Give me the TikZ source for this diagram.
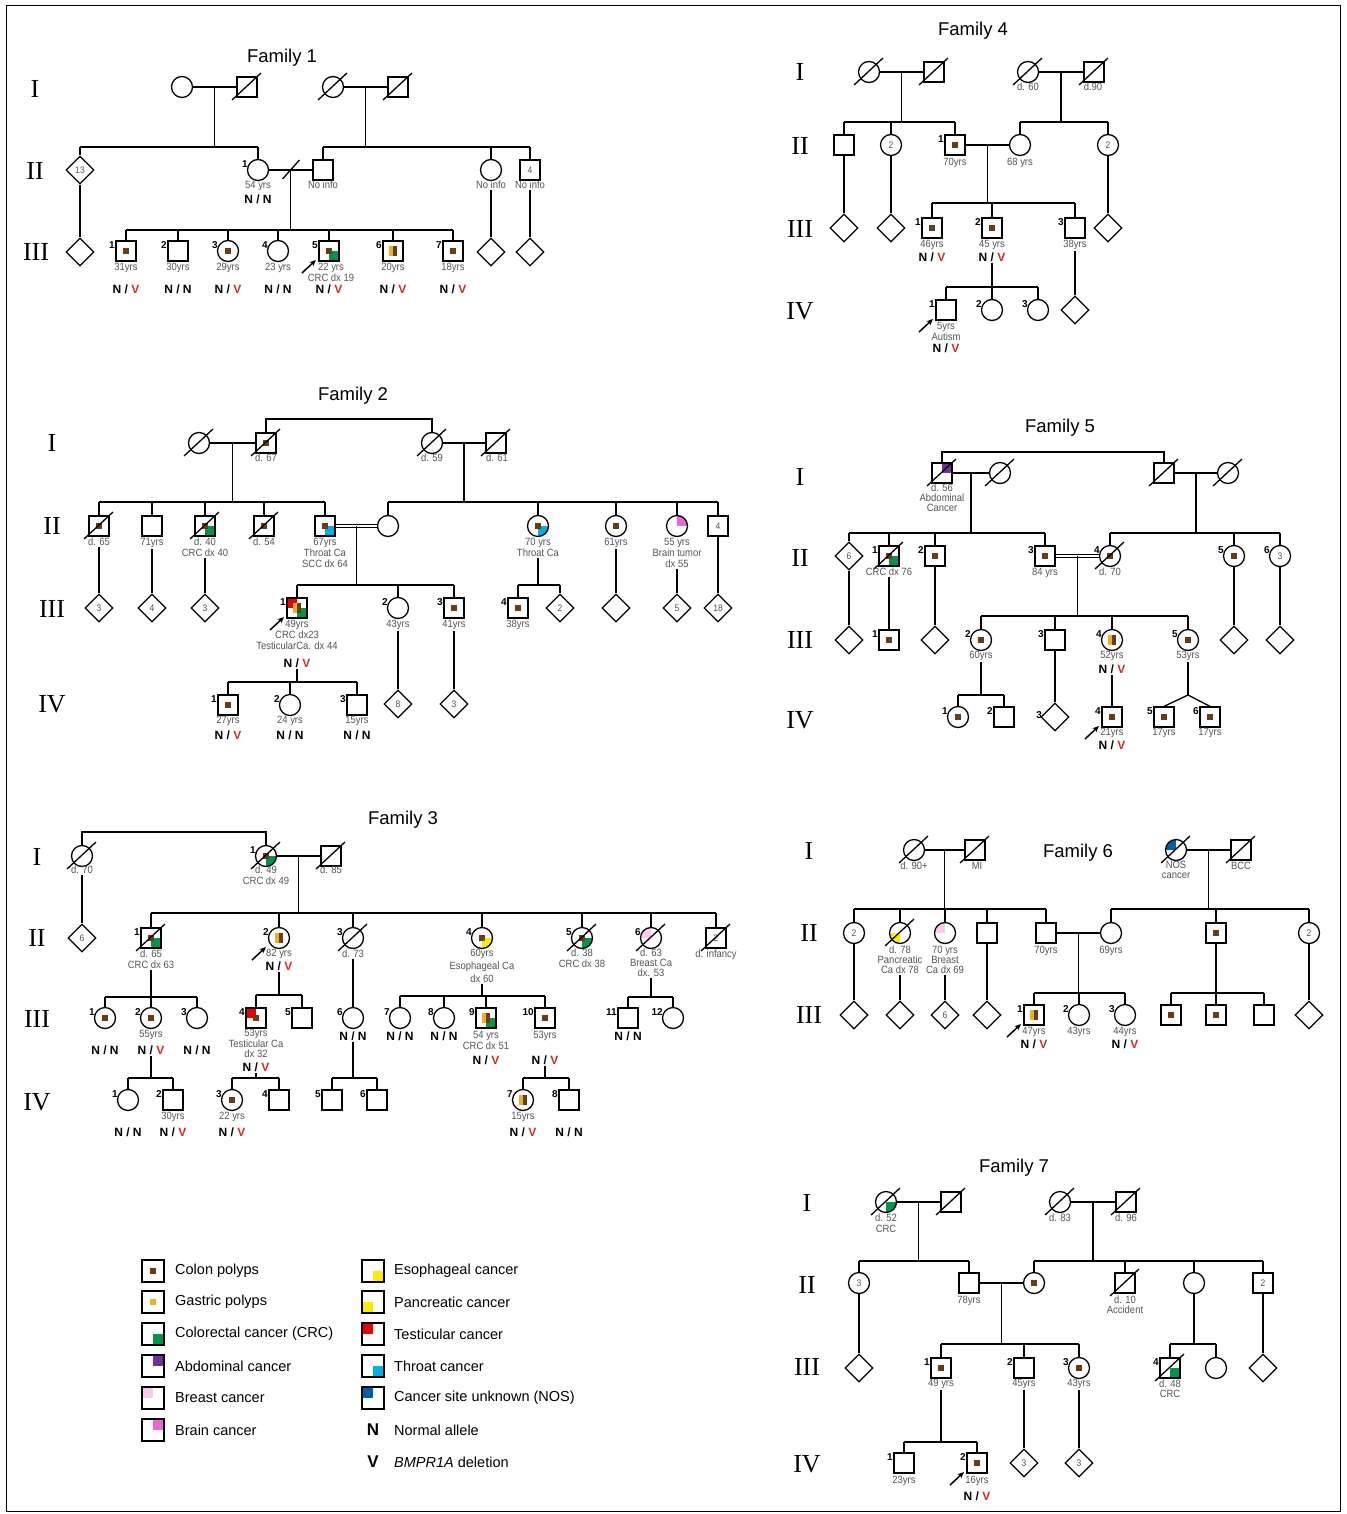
\documentclass[tikz,border=0pt]{standalone}
\usepackage{fontspec}
\setmainfont{Liberation Sans}
\newfontfamily\romfont{Liberation Serif}
\newfontfamily\labfont[FakeStretch=0.9]{Liberation Sans}
\usetikzlibrary{shapes.geometric,calc,arrows.meta}
\definecolor{cpc}{RGB}{105,60,20}
\definecolor{gpc}{RGB}{235,178,40}
\definecolor{crcc}{RGB}{0,150,70}
\definecolor{abdc}{RGB}{112,48,160}
\definecolor{brec}{RGB}{255,200,235}
\definecolor{brac}{RGB}{238,100,220}
\definecolor{yelc}{RGB}{255,235,0}
\definecolor{tesc}{RGB}{235,0,0}
\definecolor{thrc}{RGB}{0,175,235}
\definecolor{nosc}{RGB}{0,95,165}
\definecolor{vred}{RGB}{205,45,45}
\definecolor{txtg}{RGB}{85,85,85}
\newcommand\Fcp{\fill[cpc] ([shift={(-3.2,-3.2)}]path picture bounding box.center) rectangle ([shift={(3.2,3.2)}]path picture bounding box.center);}
\newcommand\Fgp{\fill[gpc] ([shift={(-3.2,-3.2)}]path picture bounding box.center) rectangle ([shift={(3.2,3.2)}]path picture bounding box.center);}
\newcommand\Fgc{\fill[gpc] ([shift={(-4,-5)}]path picture bounding box.center) rectangle ([shift={(0,5)}]path picture bounding box.center);\fill[cpc] ([shift={(0,-5)}]path picture bounding box.center) rectangle ([shift={(4,5)}]path picture bounding box.center);}
\newcommand\Fq[2]{\fill[#1] (path picture bounding box.center) rectangle (path picture bounding box.#2);}
\newcommand\Fcrc{\Fq{crcc}{south east}}
\newcommand\Fabd{\Fq{abdc}{north east}}
\newcommand\Fbre{\Fq{brec}{north west}}
\newcommand\Fbra{\Fq{brac}{north east}}
\newcommand\Feso{\Fq{yelc}{south east}}
\newcommand\Fpan{\Fq{yelc}{south west}}
\newcommand\Ftes{\Fq{tesc}{north west}}
\newcommand\Fthr{\Fq{thrc}{south east}}
\newcommand\Fnos{\Fq{nosc}{north west}}
\newcommand\dead[1]{\draw[ln] ([shift={(-15,13)}]#1.center) -- ([shift={(14,-14)}]#1.center);}
\newcommand\prob[1]{\draw[line width=1.5pt,-{Stealth[length=6.5pt,width=5.5pt]}] ([shift={(-27,22)}]#1.center) -- ([shift={(-13,9)}]#1.center);}
\newcommand\desc[2]{\draw[ln] (#1) -- (#1 |- 0,#2);}
\newcommand\sib[3]{\draw[ln] (#2.north |- 0,#1) -- (#3.north |- 0,#1);}
\newcommand\kids[2]{\foreach \kk in {#2}{\draw[ln] (\kk.north) -- (\kk.north |- 0,#1);}}
\newcommand\NV{N / \textcolor{vred}{V}}
\newcommand\NN{N / N}
\tikzset{
 ln/.style={line width=1.3pt},
 person/.style={draw, line width=1.3pt, inner sep=0pt, font=\labfont\fontsize{9.5}{9.5}\selectfont, text=txtg},
 sq/.style={person, rectangle, minimum size=20pt},
 ci/.style={person, circle, minimum size=21pt},
 di/.style={person, diamond, minimum size=28pt},
 lsq/.style={person, rectangle, minimum size=22pt},
 lab/.style={anchor=north, align=center, inner sep=1pt, text=txtg, font=\labfont\fontsize{10.5}{11}\selectfont},
 gt/.style={inner sep=1pt, font=\bfseries\fontsize{12}{12}\selectfont},
 gen/.style={inner sep=0pt, font=\romfont\fontsize{26}{26}\selectfont},
 ttl/.style={inner sep=0pt, font=\fontsize{18.5}{18.5}\selectfont},
 nlab/.style={anchor=east, inner sep=0.4pt, text=black, font=\bfseries\fontsize{10}{10}\selectfont},
 nb/.style={label={[nlab]150:#1}},
 fx/.style={path picture={#1}},
 leg/.style={anchor=west, inner sep=0pt, font=\fontsize{14.5}{14.5}\selectfont},
}
\begin{document}
\begin{tikzpicture}[x=1pt,y=-1pt]
\fill[white] (0,0) rectangle (1346,1514);
\useasboundingbox (0,0) rectangle (1346,1514);
\draw[line width=1pt] (6,6) rectangle (1340,1511);

%%%%%%%%%%%%%%%% Family 1
\node[ttl] (a-t) at (282,58) {Family 1};
\node[gen] (a-g1) at (35,89) {I};
\node[gen] (a-g2) at (35,171) {II};
\node[gen] (a-g3) at (36,252) {III};
\node[ci] (a11) at (182,87) {};
\node[sq] (a12) at (247,87) {};
\node[ci] (a13) at (333,87) {};
\node[sq] (a14) at (398,87) {};
\dead{a12}\dead{a13}\dead{a14}
\draw[ln] (a11) -- (a12);
\draw[ln] (a13) -- (a14);
\coordinate (a1m) at ($(a11)!.5!(a12)$);
\coordinate (a2m) at ($(a13)!.5!(a14)$);
\node[di] (a21) at (80,170) {13};
\node[ci,nb=1] (a22) at (258,170) {};
\node[sq] (a23) at (323,170) {};
\node[ci] (a24) at (491,170) {};
\node[sq] (a25) at (530,170) {4};
\desc{a1m}{147}\sib{147}{a21}{a22}\kids{147}{a21,a22}
\desc{a2m}{147}\sib{147}{a23}{a25}\kids{147}{a23,a24,a25}
\draw[ln] (a22) -- (a23);
\coordinate (a2c) at ($(a22)!.5!(a23)$);
\draw[ln] ([shift={(-8,9)}]a2c) -- ([shift={(9,-10)}]a2c);
\node[lab] (a22l) at (258,180) {54 yrs};
\node[gt] (a22g) at (258,199) {\NN};
\node[lab] (a23l) at (323,180) {No info};
\node[lab] (a24l) at (491,180) {No info};
\node[lab] (a25l) at (530,180) {No info};
\node[di] (a30) at (80,252) {};
\node[di] (a38) at (491,252) {};
\node[di] (a39) at (530,252) {};
\draw[ln] (a21) -- (a30);
\draw[ln] (a24l.south) -- (a38.north);
\draw[ln] (a25l.south) -- (a39.north);
\node[sq,nb=1,fx=\Fcp] (a31) at (126,251) {};
\node[sq,nb=2] (a32) at (178,251) {};
\node[ci,nb=3,fx=\Fcp] (a33) at (228,251) {};
\node[ci,nb=4] (a34) at (278,251) {};
\node[sq,nb=5,fx={\Fcrc\Fcp}] (a35) at (329,251) {};
\node[sq,nb=6,fx=\Fgc] (a36) at (393,251) {};
\node[sq,nb=7,fx=\Fcp] (a37) at (453,251) {};
\prob{a35}
\desc{a2c}{230}\sib{230}{a31}{a37}\kids{230}{a31,a32,a33,a34,a35,a36,a37}
\node[lab] (a31l) at (126,262) {31yrs};
\node[lab] (a32l) at (178,262) {30yrs};
\node[lab] (a33l) at (228,262) {29yrs};
\node[lab] (a34l) at (278,262) {23 yrs};
\node[lab] (a35l) at (331,262) {22 yrs\\CRC dx 19};
\node[lab] (a36l) at (393,262) {20yrs};
\node[lab] (a37l) at (453,262) {18yrs};
\node[gt] (a31g) at (126,289) {\NV};
\node[gt] (a32g) at (178,289) {\NN};
\node[gt] (a33g) at (228,289) {\NV};
\node[gt] (a34g) at (278,289) {\NN};
\node[gt] (a35g) at (329,289) {\NV};
\node[gt] (a36g) at (393,289) {\NV};
\node[gt] (a37g) at (453,289) {\NV};

%%%%%%%%%%%%%%%% Family 4
\node[ttl] (d-t) at (973,31) {Family 4};
\node[gen] (d-g1) at (800,72) {I};
\node[gen] (d-g2) at (800,146) {II};
\node[gen] (d-g3) at (800,229) {III};
\node[gen] (d-g4) at (800,311) {IV};
\node[ci] (d11) at (869,72) {};
\node[sq] (d12) at (934,72) {};
\node[ci] (d13) at (1028,72) {};
\node[sq] (d14) at (1094,72) {};
\dead{d11}\dead{d12}\dead{d13}\dead{d14}
\draw[ln] (d11) -- (d12);
\draw[ln] (d13) -- (d14);
\node[lab] (d13l) at (1028,82) {d. 60};
\node[lab] (d14l) at (1093,82) {d.90};
\coordinate (d1m) at ($(d11)!.5!(d12)$);
\coordinate (d2m) at ($(d13)!.5!(d14)$);
\node[sq] (d21) at (844,145) {};
\node[ci] (d22) at (891,145) {2};
\node[sq,nb=1,fx=\Fcp] (d23) at (955,145) {};
\node[ci] (d24) at (1020,145) {};
\node[ci] (d25) at (1108,145) {2};
\desc{d1m}{122}\sib{122}{d21}{d23}\kids{122}{d21,d22,d23}
\desc{d2m}{122}\sib{122}{d24}{d25}\kids{122}{d24,d25}
\draw[ln] (d23) -- (d24);
\coordinate (d3m) at ($(d23)!.5!(d24)$);
\node[lab] (d23l) at (955,157) {70yrs};
\node[lab] (d24l) at (1020,157) {68 yrs};
\node[di] (d31) at (844,228) {};
\node[di] (d32) at (891,228) {};
\node[sq,nb=1,fx=\Fcp] (d33) at (932,228) {};
\node[sq,nb=2,fx=\Fcp] (d34) at (992,228) {};
\node[sq,nb=3] (d35) at (1075,228) {};
\node[di] (d36) at (1108,228) {};
\draw[ln] (d21) -- (d31);
\draw[ln] (d22) -- (d32);
\draw[ln] (d25) -- (d36);
\desc{d3m}{203}\sib{203}{d33}{d35}\kids{203}{d33,d34,d35}
\node[lab] (d33l) at (932,239) {46yrs};
\node[lab] (d34l) at (992,239) {45 yrs};
\node[lab] (d35l) at (1075,239) {38yrs};
\node[gt] (d33g) at (932,257) {\NV};
\node[gt] (d34g) at (992,257) {\NV};
\node[sq,nb=1] (d41) at (946,310) {};
\node[ci,nb=2] (d42) at (992,310) {};
\node[ci,nb=3] (d43) at (1038,310) {};
\node[di] (d44) at (1075,310) {};
\prob{d41}
\desc{d34g.south}{287}\sib{287}{d41}{d43}\kids{287}{d41,d42,d43}
\draw[ln] (d35l.south) -- (d44.north);
\node[lab] (d41l) at (946,321) {5yrs\\Autism};
\node[gt] (d41g) at (946,348) {\NV};

%%%%%%%%%%%%%%%% Family 2
\node[ttl] (b-t) at (353,396) {Family 2};
\node[gen] (b-g1) at (52,443) {I};
\node[gen] (b-g2) at (52,526) {II};
\node[gen] (b-g3) at (52,609) {III};
\node[gen] (b-g4) at (52,704) {IV};
\node[ci] (b11) at (199,443) {};
\node[sq,fx=\Fcp] (b12) at (266,443) {};
\node[ci] (b13) at (432,443) {};
\node[sq] (b14) at (496,443) {};
\dead{b11}\dead{b12}\dead{b13}\dead{b14}
\draw[ln] (b11) -- (b12);
\draw[ln] (b13) -- (b14);
\draw[ln] (b12.north) -- (b12.north |- 0,419) -- (b13.north |- 0,419) -- (b13.north);
\node[lab] (b12l) at (266,453) {d. 67};
\node[lab] (b13l) at (432,453) {d. 59};
\node[lab] (b14l) at (497,453) {d. 61};
\coordinate (b1m) at ($(b11)!.5!(b12)$);
\coordinate (b2m) at ($(b13)!.5!(b14)$);
\node[sq,fx=\Fcp] (b21) at (99,526) {};
\node[sq] (b22) at (152,526) {};
\node[sq,fx={\Fcrc\Fcp}] (b23) at (205,526) {};
\node[sq,fx=\Fcp] (b24) at (264,526) {};
\node[sq,fx={\Fthr\Fcp}] (b25) at (325,526) {};
\node[ci] (b26) at (388,526) {};
\node[ci,fx={\Fthr\Fcp}] (b27) at (538,526) {};
\node[ci,fx=\Fcp] (b28) at (616,526) {};
\node[ci,fx=\Fbra] (b29) at (677,526) {};
\node[sq] (b2a) at (718,526) {4};
\dead{b21}\dead{b23}\dead{b24}
\desc{b1m}{502}\sib{502}{b21}{b25}\kids{502}{b21,b22,b23,b24,b25}
\desc{b2m}{502}\sib{502}{b26}{b2a}\kids{502}{b26,b27,b28,b29,b2a}
\draw[ln,double distance=2pt,line width=1pt] (b25) -- (b26);
\coordinate (b3m) at ($(b25)!.5!(b26)$);
\node[lab] (b21l) at (99,537) {d. 65};
\node[lab] (b22l) at (152,537) {71yrs};
\node[lab] (b23l) at (205,537) {d. 40\\CRC dx 40};
\node[lab] (b24l) at (264,537) {d. 54};
\node[lab] (b25l) at (325,537) {67yrs\\Throat Ca\\SCC dx 64};
\node[lab] (b27l) at (538,537) {70 yrs\\Throat Ca};
\node[lab] (b28l) at (616,537) {61yrs};
\node[lab] (b29l) at (677,537) {55 yrs\\Brain tumor\\dx 55};
\node[di] (b31) at (99,608) {3};
\node[di] (b32) at (152,608) {4};
\node[di] (b33) at (205,608) {3};
\node[sq,nb=1,fx={\Ftes\Fcrc\Fgc}] (b34) at (297,608) {};
\node[ci,nb=2] (b35) at (398,608) {};
\node[sq,nb=3,fx=\Fcp] (b36) at (454,608) {};
\node[sq,nb=4,fx=\Fcp] (b37) at (518,608) {};
\node[di] (b38) at (560,608) {2};
\node[di] (b39) at (616,608) {};
\node[di] (b3a) at (677,608) {5};
\node[di] (b3b) at (718,608) {18};
\prob{b34}
\draw[ln] (b21l.south) -- (b31.north);
\draw[ln] (b22l.south) -- (b32.north);
\draw[ln] (b23l.south) -- (b33.north);
\draw[ln] (b28l.south) -- (b39.north);
\draw[ln] (b29l.south) -- (b3a.north);
\draw[ln] (b2a.south) -- (b3b.north);
\desc{b3m}{585}\sib{585}{b34}{b36}\kids{585}{b34,b35,b36}
\desc{b27l.south}{585}\sib{585}{b37}{b38}\kids{585}{b37,b38}
\node[lab] (b34l) at (297,619) {49yrs\\CRC dx23\\TesticularCa. dx 44};
\node[gt] (b34g) at (297,663) {\NV};
\node[lab] (b35l) at (398,619) {43yrs};
\node[lab] (b36l) at (454,619) {41yrs};
\node[lab] (b37l) at (518,619) {38yrs};
\node[sq,nb=1,fx=\Fcp] (b41) at (228,705) {};
\node[ci,nb=2] (b42) at (290,705) {};
\node[sq,nb=3] (b43) at (357,705) {};
\node[di] (b44) at (398,704) {8};
\node[di] (b45) at (454,704) {3};
\draw[ln] (b35l.south) -- (b44.north);
\draw[ln] (b36l.south) -- (b45.north);
\desc{b34g.south}{682}\sib{682}{b41}{b43}\kids{682}{b41,b42,b43}
\node[lab] (b41l) at (228,715) {27yrs};
\node[lab] (b42l) at (290,715) {24 yrs};
\node[lab] (b43l) at (357,715) {15yrs};
\node[gt] (b41g) at (228,735) {\NV};
\node[gt] (b42g) at (290,735) {\NN};
\node[gt] (b43g) at (357,735) {\NN};

%%%%%%%%%%%%%%%% Family 5
\node[ttl] (e-t) at (1060,428) {Family 5};
\node[gen] (e-g1) at (800,477) {I};
\node[gen] (e-g2) at (800,558) {II};
\node[gen] (e-g3) at (800,640) {III};
\node[gen] (e-g4) at (800,720) {IV};
\node[sq,fx=\Fabd] (e11) at (942,473) {};
\node[ci] (e12) at (1000,473) {};
\node[sq] (e13) at (1164,473) {};
\node[ci] (e14) at (1228,473) {};
\dead{e11}\dead{e12}\dead{e13}\dead{e14}
\draw[ln] (e11) -- (e12);
\draw[ln] (e13) -- (e14);
\draw[ln] (e11.north) -- (e11.north |- 0,452) -- (e13.north |- 0,452) -- (e13.north);
\node[lab,font=\labfont\fontsize{10.5}{10}\selectfont] (e11l) at (942,483) {d. 56\\Abdominal\\Cancer};
\coordinate (e1m) at ($(e11)!.5!(e12)$);
\coordinate (e2m) at ($(e13)!.5!(e14)$);
\node[di] (e21) at (849,556) {6};
\node[sq,nb=1,fx={\Fcrc\Fcp}] (e22) at (889,556) {};
\node[sq,nb=2,fx=\Fcp] (e23) at (935,556) {};
\node[sq,nb=3,fx=\Fcp] (e24) at (1045,556) {};
\node[ci,nb=4,fx=\Fcp] (e25) at (1110,556) {};
\node[ci,nb=5,fx=\Fcp] (e26) at (1234,556) {};
\node[ci,nb=6] (e27) at (1280,556) {3};
\dead{e22}\dead{e25}
\desc{e1m}{533}\sib{533}{e21}{e24}\kids{533}{e21,e22,e23,e24}
\desc{e2m}{533}\sib{533}{e25}{e27}\kids{533}{e25,e26,e27}
\draw[ln,double distance=2pt,line width=1pt] (e24) -- (e25);
\coordinate (e3m) at ($(e24)!.5!(e25)$);
\node[lab] (e22l) at (889,567) {CRC dx 76};
\node[lab] (e24l) at (1045,567) {84 yrs};
\node[lab] (e25l) at (1110,567) {d. 70};
\node[di] (e31) at (849,640) {};
\node[sq,nb=1,fx=\Fcp] (e32) at (889,640) {};
\node[di] (e33) at (935,640) {};
\node[ci,nb=2,fx=\Fcp] (e34) at (981,640) {};
\node[sq,nb=3] (e35) at (1055,640) {};
\node[ci,nb=4,fx=\Fgc] (e36) at (1112,640) {};
\node[ci,nb=5,fx=\Fcp] (e37) at (1188,640) {};
\node[di] (e38) at (1234,640) {};
\node[di] (e39) at (1280,640) {};
\draw[ln] (e21) -- (e31);
\draw[ln] (e22l.south) -- (e32.north);
\draw[ln] (e23) -- (e33);
\draw[ln] (e26) -- (e38);
\draw[ln] (e27) -- (e39);
\desc{e3m}{616}\sib{616}{e34}{e37}\kids{616}{e34,e35,e36,e37}
\node[lab] (e34l) at (981,650) {60yrs};
\node[lab] (e36l) at (1112,650) {52yrs};
\node[lab] (e37l) at (1188,650) {53yrs};
\node[gt] (e36g) at (1112,669) {\NV};
\node[ci,nb=1,fx=\Fcp] (e41) at (958,717) {};
\node[sq,nb=2] (e42) at (1004,717) {};
\node[di,label={[nlab]170:3}] (e43) at (1055,717) {};
\node[sq,nb=4,fx=\Fcp] (e44) at (1112,717) {};
\node[sq,nb=5,fx=\Fcp] (e45) at (1164,717) {};
\node[sq,nb=6,fx=\Fcp] (e46) at (1210,717) {};
\prob{e44}
\desc{e34l.south}{695}\sib{695}{e41}{e42}\kids{695}{e41,e42}
\draw[ln] (e35) -- (e43);
\draw[ln] (e36g.south) -- (e44.north);
\coordinate (e3t) at (1188,695);
\draw[ln] (e37l.south) -- (e3t);
\draw[ln] (e3t) -- (e45.north);
\draw[ln] (e3t) -- (e46.north);
\node[lab] (e44l) at (1112,727) {21yrs};
\node[gt] (e44g) at (1112,745) {\NV};
\node[lab] (e45l) at (1164,727) {17yrs};
\node[lab] (e46l) at (1210,727) {17yrs};

%%%%%%%%%%%%%%%% Family 3
\node[ttl] (c-t) at (403,820) {Family 3};
\node[gen] (c-g1) at (37,857) {I};
\node[gen] (c-g2) at (37,938) {II};
\node[gen] (c-g3) at (37,1019) {III};
\node[gen] (c-g4) at (37,1102) {IV};
\node[ci] (c11) at (82,856) {};
\node[ci,nb=1,fx={\Fcrc\Fcp}] (c12) at (266,856) {};
\node[sq] (c13) at (331,856) {};
\dead{c11}\dead{c12}\dead{c13}
\draw[ln] (c12) -- (c13);
\draw[ln] (c11.north) -- (c11.north |- 0,832) -- (c12.north |- 0,832) -- (c12.north);
\node[lab] (c11l) at (82,865) {d. 70};
\node[lab] (c12l) at (266,865) {d. 49\\CRC dx 49};
\node[lab] (c13l) at (331,865) {d. 85};
\coordinate (c1m) at ($(c12)!.5!(c13)$);
\node[di] (c21) at (82,938) {6};
\node[sq,nb=1,fx={\Fcrc\Fcp}] (c22) at (151,938) {};
\node[ci,nb=2,fx=\Fgc] (c23) at (279,938) {};
\node[ci,nb=3] (c24) at (353,938) {};
\node[ci,nb=4,fx={\Feso\Fcp}] (c25) at (482,938) {};
\node[ci,nb=5,fx={\Fcrc\Fcp}] (c26) at (582,938) {};
\node[ci,nb=6,fx=\Fbre] (c27) at (651,938) {};
\node[sq] (c28) at (716,938) {2};
\dead{c22}\dead{c24}\dead{c26}\dead{c27}\dead{c28}
\prob{c23}
\draw[ln] (c11l.south) -- (c21.north);
\desc{c1m}{913}\sib{913}{c22}{c28}\kids{913}{c22,c23,c24,c25,c26,c27,c28}
\node[lab] (c22l) at (151,949) {d. 65\\CRC dx 63};
\node[lab] (c23l) at (279,948) {82 yrs};
\node[gt] (c23g) at (279,966) {\NV};
\node[lab] (c24l) at (353,949) {d. 73};
\node[lab,font=\labfont\fontsize{10.5}{13}\selectfont] (c25l) at (482,948) {60yrs\\Esophageal Ca\\dx 60};
\node[lab] (c26l) at (582,948) {d. 38\\CRC dx 38};
\node[lab,font=\labfont\fontsize{10.5}{10}\selectfont] (c27l) at (651,948) {d. 63\\Breast Ca\\dx. 53};
\node[lab] (c28l) at (716,949) {d. infancy};
\node[ci,nb=1,fx=\Fcp] (c31) at (105,1018) {};
\node[ci,nb=2,fx=\Fcp] (c32) at (151,1018) {};
\node[ci,nb=3] (c33) at (197,1018) {};
\node[sq,nb=4,fx={\Ftes\Fcp}] (c34) at (256,1018) {};
\node[sq,nb=5] (c35) at (302,1018) {};
\node[ci,nb=6] (c36) at (353,1018) {};
\node[ci,nb=7] (c37) at (400,1018) {};
\node[ci,nb=8] (c38) at (444,1018) {};
\node[sq,nb=9,fx={\Fcrc\Fgc}] (c39) at (486,1018) {};
\node[sq,nb=10,fx=\Fcp] (c3a) at (545,1018) {};
\node[sq,nb=11] (c3b) at (628,1018) {};
\node[ci,nb=12] (c3c) at (673,1018) {};
\desc{c22l.south}{997}\sib{997}{c31}{c33}\kids{997}{c31,c32,c33}
\desc{c23g.south}{995}\sib{995}{c34}{c35}\kids{995}{c34,c35}
\draw[ln] (c24l.south) -- (c36.north);
\desc{c25l.south}{996}\sib{996}{c37}{c3a}\kids{996}{c37,c38,c39,c3a}
\desc{c27l.south}{997}\sib{997}{c3b}{c3c}\kids{997}{c3b,c3c}
\node[lab] (c32l) at (151,1029) {55yrs};
\node[gt] (c31g) at (105,1050) {\NN};
\node[gt] (c32g) at (151,1050) {\NV};
\node[gt] (c33g) at (197,1050) {\NN};
\node[lab,font=\labfont\fontsize{10.5}{10.5}\selectfont] (c34l) at (256,1028) {53yrs\\Testicular Ca\\dx 32};
\node[gt] (c34g) at (256,1067) {\NV};
\node[gt] (c36g) at (353,1036) {\NN};
\node[gt] (c37g) at (400,1036) {\NN};
\node[gt] (c38g) at (444,1036) {\NN};
\node[lab] (c39l) at (486,1030) {54 yrs\\CRC dx 51};
\node[gt] (c39g) at (486,1060) {\NV};
\node[lab] (c3al) at (545,1030) {53yrs};
\node[gt] (c3ag) at (545,1060) {\NV};
\node[gt] (c3bg) at (628,1036) {\NN};
\node[ci,nb=1] (c41) at (128,1100) {};
\node[sq,nb=2] (c42) at (173,1100) {};
\node[ci,nb=3,fx=\Fcp] (c43) at (232,1100) {};
\node[sq,nb=4] (c44) at (279,1100) {};
\node[sq,nb=5] (c45) at (332,1100) {};
\node[sq,nb=6] (c46) at (377,1100) {};
\node[ci,nb=7,fx=\Fgc] (c47) at (523,1100) {};
\node[sq,nb=8] (c48) at (569,1100) {};
\desc{c32g.south}{1078}\sib{1078}{c41}{c42}\kids{1078}{c41,c42}
\desc{c34g.south}{1078}\sib{1078}{c43}{c44}\kids{1078}{c43,c44}
\desc{c36g.south}{1078}\sib{1078}{c45}{c46}\kids{1078}{c45,c46}
\desc{c3ag.south}{1078}\sib{1078}{c47}{c48}\kids{1078}{c47,c48}
\node[lab] (c42l) at (173,1111) {30yrs};
\node[lab] (c43l) at (232,1111) {22 yrs};
\node[lab] (c47l) at (523,1111) {15yrs};
\node[gt] (c41g) at (128,1132) {\NN};
\node[gt] (c42g) at (173,1132) {\NV};
\node[gt] (c43g) at (232,1132) {\NV};
\node[gt] (c47g) at (523,1132) {\NV};
\node[gt] (c48g) at (569,1132) {\NN};

%%%%%%%%%%%%%%%% Family 6
\node[ttl] (f-t) at (1078,853) {Family 6};
\node[gen] (f-g1) at (809,851) {I};
\node[gen] (f-g2) at (809,933) {II};
\node[gen] (f-g3) at (809,1015) {III};
\node[ci] (f11) at (914,850) {};
\node[sq] (f12) at (975,850) {};
\node[ci,fx=\Fnos] (f13) at (1176,850) {};
\node[sq] (f14) at (1241,850) {};
\dead{f11}\dead{f12}\dead{f13}\dead{f14}
\draw[ln] (f11) -- (f12);
\draw[ln] (f13) -- (f14);
\node[lab] (f11l) at (914,861) {d. 90+};
\node[lab] (f12l) at (977,861) {MI};
\node[lab,font=\labfont\fontsize{10.5}{10}\selectfont] (f13l) at (1176,860) {NOS\\cancer};
\node[lab] (f14l) at (1241,861) {BCC};
\coordinate (f1m) at ($(f11)!.5!(f12)$);
\coordinate (f2m) at ($(f13)!.5!(f14)$);
\node[ci] (f21) at (854,933) {2};
\node[ci,fx=\Fpan] (f22) at (900,933) {};
\node[ci,fx=\Fbre] (f23) at (945,933) {};
\node[sq] (f24) at (987,933) {};
\node[sq] (f25) at (1046,933) {};
\node[ci] (f26) at (1111,933) {};
\node[sq,fx=\Fcp] (f27) at (1216,933) {};
\node[ci] (f28) at (1309,933) {2};
\dead{f22}
\desc{f1m}{909}\sib{909}{f21}{f25}\kids{909}{f21,f22,f23,f24,f25}
\desc{f2m}{909}\sib{909}{f26}{f28}\kids{909}{f26,f27,f28}
\draw[ln] (f25) -- (f26);
\coordinate (f3m) at ($(f25)!.5!(f26)$);
\node[lab,font=\labfont\fontsize{10.5}{10}\selectfont] (f22l) at (900,945) {d. 78\\Pancreatic\\Ca dx 78};
\node[lab,font=\labfont\fontsize{10.5}{10}\selectfont] (f23l) at (945,945) {70 yrs\\Breast\\Ca dx 69};
\node[lab] (f25l) at (1046,945) {70yrs};
\node[lab] (f26l) at (1111,945) {69yrs};
\node[di] (f31) at (854,1015) {};
\node[di] (f32) at (900,1015) {};
\node[di] (f33) at (945,1015) {6};
\node[di] (f34) at (987,1015) {};
\node[sq,nb=1,fx=\Fgc] (f35) at (1034,1015) {};
\node[ci,nb=2] (f36) at (1079,1015) {};
\node[ci,nb=3] (f37) at (1125,1015) {};
\node[sq,fx=\Fcp] (f38) at (1171,1015) {};
\node[sq,fx=\Fcp] (f39) at (1216,1015) {};
\node[sq] (f3a) at (1264,1015) {};
\node[di] (f3b) at (1309,1015) {};
\prob{f35}
\draw[ln] (f21) -- (f31);
\draw[ln] (f22l.south) -- (f32.north);
\draw[ln] (f23l.south) -- (f33.north);
\draw[ln] (f24) -- (f34);
\draw[ln] (f28) -- (f3b);
\desc{f3m}{993}\sib{993}{f35}{f37}\kids{993}{f35,f36,f37}
\desc{f27.south}{993}\sib{993}{f38}{f3a}\kids{993}{f38,f39,f3a}
\node[lab] (f35l) at (1034,1026) {47yrs};
\node[lab] (f36l) at (1079,1026) {43yrs};
\node[lab] (f37l) at (1125,1026) {44yrs};
\node[gt] (f35g) at (1034,1044) {\NV};
\node[gt] (f37g) at (1125,1044) {\NV};

%%%%%%%%%%%%%%%% Family 7
\node[ttl] (g-t) at (1014,1168) {Family 7};
\node[gen] (g-g1) at (807,1203) {I};
\node[gen] (g-g2) at (807,1285) {II};
\node[gen] (g-g3) at (807,1367) {III};
\node[gen] (g-g4) at (807,1464) {IV};
\node[ci,fx=\Fcrc] (g11) at (886,1202) {};
\node[sq] (g12) at (951,1202) {};
\node[ci] (g13) at (1060,1202) {};
\node[sq] (g14) at (1126,1202) {};
\dead{g11}\dead{g12}\dead{g13}\dead{g14}
\draw[ln] (g11) -- (g12);
\draw[ln] (g13) -- (g14);
\node[lab] (g11l) at (886,1213) {d. 52\\CRC};
\node[lab] (g13l) at (1060,1213) {d. 83};
\node[lab] (g14l) at (1126,1213) {d. 96};
\coordinate (g1m) at ($(g11)!.5!(g12)$);
\coordinate (g2m) at ($(g13)!.5!(g14)$);
\node[ci] (g21) at (859,1283) {3};
\node[sq] (g22) at (969,1283) {};
\node[ci,fx=\Fcp] (g23) at (1034,1283) {};
\node[sq] (g24) at (1125,1283) {};
\node[ci] (g25) at (1194,1283) {};
\node[sq] (g26) at (1263,1283) {2};
\dead{g24}
\desc{g1m}{1261}\sib{1261}{g21}{g22}\kids{1261}{g21,g22}
\desc{g2m}{1261}\sib{1261}{g23}{g26}\kids{1261}{g23,g24,g25,g26}
\draw[ln] (g22) -- (g23);
\coordinate (g3m) at ($(g22)!.5!(g23)$);
\node[lab] (g22l) at (969,1295) {78yrs};
\node[lab,font=\labfont\fontsize{10.5}{10}\selectfont] (g24l) at (1125,1295) {d. 10\\Accident};
\node[di] (g31) at (859,1368) {};
\node[sq,nb=1,fx=\Fcp] (g32) at (941,1368) {};
\node[sq,nb=2] (g33) at (1024,1368) {};
\node[ci,nb=3,fx=\Fcp] (g34) at (1079,1368) {};
\node[sq,nb=4,fx=\Fcrc] (g35) at (1170,1368) {};
\node[ci] (g36) at (1216,1368) {};
\node[di] (g37) at (1263,1368) {};
\dead{g35}
\draw[ln] (g21) -- (g31);
\draw[ln] (g26) -- (g37);
\desc{g3m}{1344}\sib{1344}{g32}{g34}\kids{1344}{g32,g33,g34}
\desc{g25.south}{1344}\sib{1344}{g35}{g36}\kids{1344}{g35,g36}
\node[lab] (g32l) at (941,1378) {49 yrs};
\node[lab] (g33l) at (1024,1378) {45yrs};
\node[lab] (g34l) at (1079,1378) {43yrs};
\node[lab,font=\labfont\fontsize{10.5}{10}\selectfont] (g35l) at (1170,1379) {d. 48\\CRC};
\node[sq,nb=1] (g41) at (904,1463) {};
\node[sq,nb=2,fx=\Fcp] (g42) at (977,1463) {};
\node[di] (g43) at (1024,1463) {3};
\node[di] (g44) at (1079,1463) {3};
\prob{g42}
\desc{g32l.south}{1442}\sib{1442}{g41}{g42}\kids{1442}{g41,g42}
\draw[ln] (g33l.south) -- (g43.north);
\draw[ln] (g34l.south) -- (g44.north);
\node[lab] (g41l) at (904,1475) {23yrs};
\node[lab] (g42l) at (977,1475) {16yrs};
\node[gt] (g42g) at (977,1496) {\NV};

%%%%%%%%%%%%%%%% Legend
\node[lsq,fx=\Fcp] (L1) at (153,1271) {};
\node[leg] (L1t) at (175,1271) {Colon polyps};
\node[lsq,fx=\Fgp] (L2) at (153,1302) {};
\node[leg] (L2t) at (175,1302) {Gastric polyps};
\node[lsq,fx=\Fcrc] (L3) at (153,1334) {};
\node[leg] (L3t) at (175,1334) {Colorectal cancer (CRC)};
\node[lsq,fx=\Fabd] (L4) at (153,1366) {};
\node[leg] (L4t) at (175,1366) {Abdominal cancer};
\node[lsq,fx=\Fbre] (L5) at (153,1398) {};
\node[leg] (L5t) at (175,1398) {Breast cancer};
\node[lsq,fx=\Fbra] (L6) at (153,1430) {};
\node[leg] (L6t) at (175,1430) {Brain cancer};
\node[lsq,fx=\Feso] (M1) at (373,1271) {};
\node[leg] (M1t) at (394,1271) {Esophageal cancer};
\node[lsq,fx=\Fpan] (M2) at (373,1302) {};
\node[leg] (M2t) at (394,1302) {Pancreatic cancer};
\node[lsq,fx=\Ftes] (M3) at (373,1334) {};
\node[leg] (M3t) at (394,1334) {Testicular cancer};
\node[lsq,fx=\Fthr] (M4) at (373,1366) {};
\node[leg] (M4t) at (394,1366) {Throat cancer};
\node[lsq,fx=\Fnos] (M5) at (373,1398) {};
\node[leg] (M5t) at (394,1398) {Cancer site unknown (NOS)};
\node[inner sep=0pt,font=\bfseries\fontsize{17}{17}\selectfont] (M6) at (373,1430) {N};
\node[leg] (M6t) at (394,1430) {Normal allele};
\node[inner sep=0pt,font=\bfseries\fontsize{17}{17}\selectfont] (M7) at (373,1462) {V};
\node[leg] (M7t) at (394,1462) {\textit{BMPR1A} deletion};
\end{tikzpicture}
\end{document}
